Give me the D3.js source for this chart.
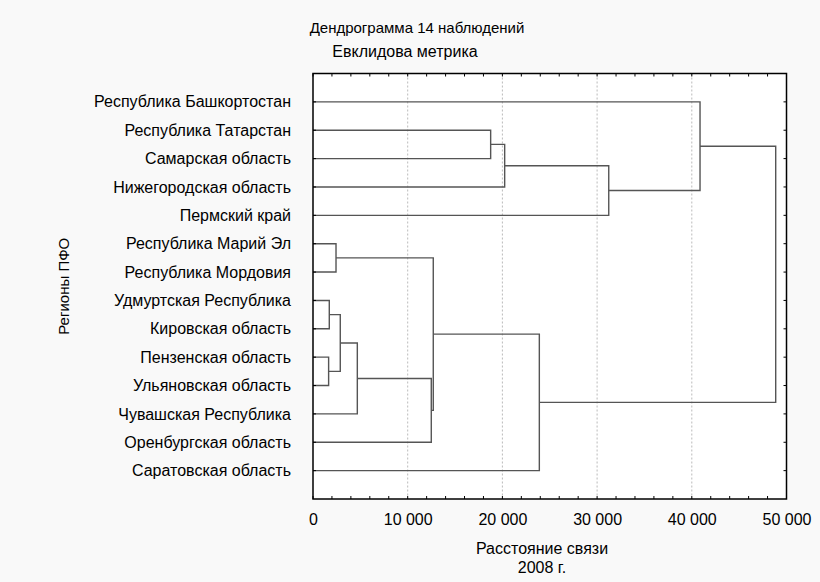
<!DOCTYPE html>
<html><head><meta charset="utf-8">
<script src="https://cdn.jsdelivr.net/npm/d3@7"></script>
<style>
html,body{margin:0;padding:0;background:#f9f9f9;}
svg{display:block;}
text{font-family:"Liberation Sans",Arial,sans-serif;fill:#000;}
</style></head>
<body>
<svg id="chart" width="820" height="582"></svg>
<script>
// Leaves in display order (top to bottom)
const leaves = [
  "Республика Башкортостан",
  "Республика Татарстан",
  "Самарская область",
  "Нижегородская область",
  "Пермский край",
  "Республика Марий Эл",
  "Республика Мордовия",
  "Удмуртская Республика",
  "Кировская область",
  "Пензенская область",
  "Ульяновская область",
  "Чувашская Республика",
  "Оренбургская область",
  "Саратовская область"
];
// Linkage: ids 0..13 are leaves, each merge creates id 14, 15, ...
const mergeA = [1, 14, 15, 0, 5, 7, 9, 19, 21, 22, 18, 24, 17];
const mergeB = [2, 3, 4, 16, 6, 8, 10, 20, 11, 12, 23, 13, 25];
const mergeDist = [18760, 20240, 31230, 40870, 2430, 1720, 1650, 2880, 4680, 12490, 12700, 23900, 48860];
const xTicks = [0, 10000, 20000, 30000, 40000, 50000];
const title = "Дендрограмма 14 наблюдений";
const subtitle = "Евклидова метрика";
const xTitle = "Расстояние связи";
const xSubtitle = "2008 г.";
const yTitle = "Регионы ПФО";

const L = 313, R = 786.5, T = 73.5, B = 499;
const svg = d3.select("#chart");

const x = d3.scaleLinear().domain([0, 50000]).range([L, R]);
const y = d3.scalePoint().domain(leaves).range([T, B]).padding(1);

// plot background
svg.append("rect").attr("x", L).attr("y", T).attr("width", R - L).attr("height", B - T).attr("fill", "#fff");

// grid
svg.append("g").selectAll("line").data(xTicks.slice(1, -1)).join("line")
  .attr("x1", d => x(d)).attr("x2", d => x(d)).attr("y1", T).attr("y2", B)
  .attr("stroke", "#aaa").attr("stroke-width", 0.8).attr("stroke-dasharray", "2,2");

// node positions
const nodes = leaves.map(n => ({x: x(0), y: y(n)}));
const g = svg.append("g").attr("stroke", "#555").attr("stroke-width", 1.4).attr("fill", "none");
mergeA.forEach((a, i) => {
  const na = nodes[a], nb = nodes[mergeB[i]];
  const px = x(mergeDist[i]);
  g.append("path").attr("d", `M${na.x},${na.y}H${px}V${nb.y}H${nb.x}`);
  nodes.push({x: px, y: (na.y + nb.y) / 2});
});

// frame
svg.append("rect").attr("x", L).attr("y", T).attr("width", R - L).attr("height", B - T)
  .attr("fill", "none").attr("stroke", "#000").attr("stroke-width", 1.5);

// axes
const axisBottom = d3.axisBottom(x).tickValues(xTicks).tickSize(0).tickPadding(15)
  .tickFormat(d => d3.format(",")(d).replace(/,/g, " "));
const ab = svg.append("g").attr("transform", `translate(0,${B})`).call(axisBottom);
ab.select(".domain").remove();
ab.selectAll("text").attr("font-size", 16).attr("font-family", "Liberation Sans, Arial, sans-serif").attr("fill", "#000");

const minor = d3.range(0, 50001, 2000);
const tk = svg.append("g").attr("stroke", "#000").attr("stroke-width", 1);
minor.forEach(v => {
  tk.append("line").attr("x1", x(v)).attr("x2", x(v)).attr("y1", B).attr("y2", B - 3);
  tk.append("line").attr("x1", x(v)).attr("x2", x(v)).attr("y1", T).attr("y2", T + 3);
});
leaves.forEach(n => {
  tk.append("line").attr("x1", L).attr("x2", L + 3).attr("y1", y(n)).attr("y2", y(n));
  tk.append("line").attr("x1", R).attr("x2", R - 3).attr("y1", y(n)).attr("y2", y(n));
});

// leaf labels
svg.append("g").selectAll("text").data(leaves).join("text")
  .attr("x", L - 22).attr("y", d => y(d)).attr("dy", "0.35em")
  .attr("text-anchor", "end").attr("font-size", 16).text(d => d);

// titles
svg.append("text").attr("x", 417).attr("y", 33).attr("text-anchor", "middle").attr("font-size", 15).text(title);
svg.append("text").attr("x", 405).attr("y", 57).attr("text-anchor", "middle").attr("font-size", 16).text(subtitle);
svg.append("text").attr("x", 542).attr("y", 554).attr("text-anchor", "middle").attr("font-size", 16).text(xTitle);
svg.append("text").attr("x", 542).attr("y", 573).attr("text-anchor", "middle").attr("font-size", 16).text(xSubtitle);
svg.append("text").attr("transform", `translate(69,${(T + B) / 2}) rotate(-90)`)
  .attr("text-anchor", "middle").attr("font-size", 15).text(yTitle);
</script>
</body></html>
